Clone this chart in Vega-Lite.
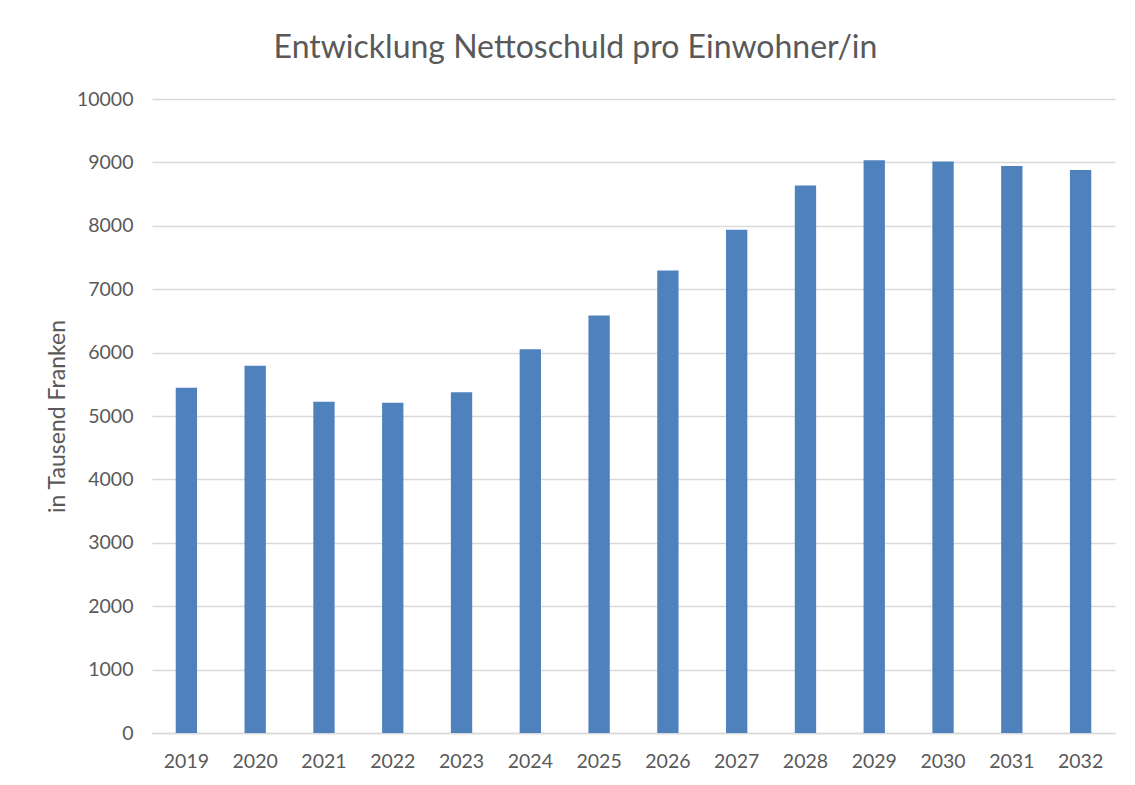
{
  "$schema": "https://vega.github.io/schema/vega-lite/v6.json",
  "autosize": {"type": "none"},
  "width": 963,
  "height": 634,
  "padding": {"left": 152, "top": 99, "right": 20, "bottom": 52},
  "background": "white",
  "title": {
    "text": "Entwicklung Nettoschuld pro Einwohner/in",
    "font": "Lato",
    "fontSize": 32,
    "fontWeight": "normal",
    "color": "#595959",
    "anchor": "middle",
    "dx": -58,
    "offset": 24
  },
  "data": {
    "values": [
      {"Jahr": "2019", "Wert": 5445},
      {"Jahr": "2020", "Wert": 5792},
      {"Jahr": "2021", "Wert": 5224},
      {"Jahr": "2022", "Wert": 5208},
      {"Jahr": "2023", "Wert": 5375},
      {"Jahr": "2024", "Wert": 6052},
      {"Jahr": "2025", "Wert": 6585},
      {"Jahr": "2026", "Wert": 7295},
      {"Jahr": "2027", "Wert": 7937},
      {"Jahr": "2028", "Wert": 8637},
      {"Jahr": "2029", "Wert": 9032},
      {"Jahr": "2030", "Wert": 9016},
      {"Jahr": "2031", "Wert": 8943},
      {"Jahr": "2032", "Wert": 8880}
    ]
  },
  "mark": {"type": "bar", "color": "#4F81BD"},
  "encoding": {
    "x": {
      "field": "Jahr",
      "type": "ordinal",
      "scale": {"paddingInner": 0.69, "paddingOuter": 0.345},
      "axis": {
        "title": null,
        "labelAngle": 0,
        "labelFont": "Lato",
        "labelFontSize": 19.5,
        "labelColor": "#595959",
        "labelPadding": 19,
        "ticks": false,
        "domain": true,
        "domainColor": "#D9D9D9",
        "domainWidth": 1.5
      }
    },
    "y": {
      "field": "Wert",
      "type": "quantitative",
      "scale": {"domain": [0, 10000], "nice": false},
      "axis": {
        "title": "in Tausend Franken",
        "titleFont": "Lato",
        "titleFontSize": 23,
        "titleFontWeight": "normal",
        "titleColor": "#595959",
        "titleX": -95,
        "titleY": 317,
        "titleAngle": -90,
        "titleAlign": "center",
        "titleBaseline": "middle",
        "values": [0, 1000, 2000, 3000, 4000, 5000, 6000, 7000, 8000, 9000, 10000],
        "format": "d",
        "labelFont": "Lato",
        "labelFontSize": 19.5,
        "labelColor": "#595959",
        "labelPadding": 19,
        "ticks": false,
        "domain": false,
        "grid": true,
        "gridColor": "#D9D9D9",
        "gridWidth": 1.5
      }
    }
  },
  "config": {"view": {"stroke": null}}
}
